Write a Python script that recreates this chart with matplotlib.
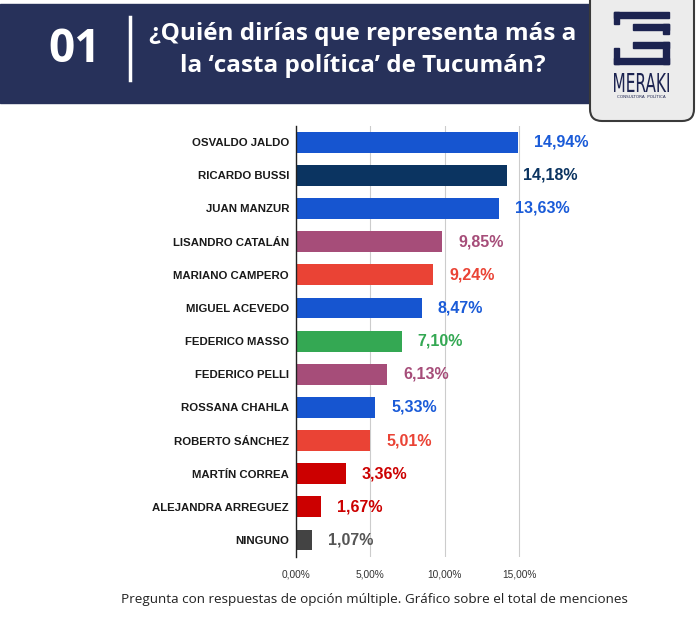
import matplotlib
matplotlib.use("Agg")
import matplotlib.pyplot as plt
from matplotlib.patches import Rectangle, FancyBboxPatch, PathPatch
from matplotlib.textpath import TextPath
from matplotlib.font_manager import FontProperties
from matplotlib.transforms import Affine2D

names = ["OSVALDO JALDO", "RICARDO BUSSI", "JUAN MANZUR", "LISANDRO CATALÁN",
         "MARIANO CAMPERO", "MIGUEL ACEVEDO", "FEDERICO MASSO", "FEDERICO PELLI",
         "ROSSANA CHAHLA", "ROBERTO SÁNCHEZ", "MARTÍN CORREA",
         "ALEJANDRA ARREGUEZ", "NINGUNO"]
values = [14.94, 14.18, 13.63, 9.85, 9.24, 8.47, 7.10, 6.13, 5.33, 5.01, 3.36, 1.67, 1.07]
bar_colors = ["#1655d0", "#0b3461", "#1655d0", "#a64d79", "#ea4335", "#1655d0",
              "#34a853", "#a64d79", "#1655d0", "#ea4335", "#cc0000", "#cc0000", "#434343"]
label_colors = ["#1a5bd8", "#0b3461", "#1a5bd8", "#a64d79", "#ea4335", "#1a5bd8",
                "#34a853", "#a64d79", "#1a5bd8", "#ea4335", "#cc0000", "#cc0000", "#555555"]
xticks = [0, 5, 10, 15]
xtick_labels = ["0,00%", "5,00%", "10,00%", "15,00%"]

title = "¿Quién dirías que representa más a\nla ‘casta política’ de Tucumán?"
footer = "Pregunta con respuestas de opción múltiple. Gráfico sobre el total de menciones"

W, H = 698, 621
fig = plt.figure(figsize=(W / 100, H / 100), dpi=100)
fig.patch.set_facecolor("white")

# header / decoration layer in pixel coords
deco = fig.add_axes([0, 0, 1, 1], zorder=0)
deco.set_xlim(0, W)
deco.set_ylim(H, 0)
deco.axis("off")

navy = "#27315a"
deco.add_patch(Rectangle((0, 4), 596, 99, color=navy, zorder=1))
deco.plot([130, 130], [17, 80], color="white", lw=2.5, zorder=2)
deco.text(75, 50, "01", color="white", fontsize=33, fontweight="bold",
          family="Open Sans", ha="center", va="center", zorder=3)
deco.text(363, 50, title, color="white", fontsize=17.5, fontweight="bold",
          family="Open Sans", ha="center", va="center",
          linespacing=1.45, zorder=3)

# logo box
deco.add_patch(FancyBboxPatch((590, -20), 104, 141, boxstyle="round,pad=0,rounding_size=12",
                              facecolor="#ececec", edgecolor="#3a3a3a", lw=1.5, zorder=4))
logo_c = "#1c2350"
for (x0, y0, w, h) in [(614, 12, 55, 6), (614, 12, 5, 12), (633, 24, 36, 6),
                       (663, 24, 6, 10), (633, 42, 36, 6), (663, 42, 6, 22),
                       (614, 58, 55, 6), (614, 48, 5, 16)]:
    deco.add_patch(Rectangle((x0, y0), w, h, color=logo_c, zorder=5))

# condensed "MERAKI" fitted into its box
tp = TextPath((0, 0), "MERAKI", size=10, prop=FontProperties(family="DejaVu Sans"))
bb = tp.get_extents()
sx = 55 / bb.width
sy = 19 / bb.height
tr = Affine2D().translate(-bb.x0, -bb.y0).scale(sx, -sy).translate(614, 92)
deco.add_patch(PathPatch(tr.transform_path(tp), color=logo_c, lw=0, zorder=5))
deco.text(641.5, 97, "CONSULTORA  POLÍTICA", color=logo_c, fontsize=3,
          ha="center", va="center", zorder=5)

deco.text(374, 600, footer, color="#222222", fontsize=9.7,
          family="Open Sans", ha="center", va="center")

# chart
ax = fig.add_axes([296 / W, 1 - 556.6 / H, 282.5 / W, 431 / H], zorder=2)
ax.patch.set_alpha(0)
y = list(range(len(names)))
bars = ax.barh(y, values, height=0.63, color=bar_colors, zorder=3)
ax.set_ylim(len(names) - 0.5, -0.5)
ax.set_xlim(0, 19)
ax.set_yticks(y)
ax.set_yticklabels(names, fontsize=8.2, fontweight="bold", family="Liberation Sans", color="#1a1a1a")
ax.set_xticks(xticks)
ax.set_xticklabels(xtick_labels, fontsize=7.3, family="Liberation Sans", color="#333333")
ax.tick_params(axis="y", length=0, pad=5)
ax.tick_params(axis="x", length=0, pad=9)
for s in ["top", "right", "bottom"]:
    ax.spines[s].set_visible(False)
ax.spines["left"].set_color("#222222")
ax.spines["left"].set_linewidth(1)
ax.spines["left"].set_zorder(4)
ax.grid(axis="x", color="#cccccc", lw=0.8, zorder=0)

for b, v, c in zip(bars, values, label_colors):
    ax.annotate(f"{v:.2f}%".replace(".", ","), (v, b.get_y() + b.get_height() / 2),
                xytext=(11.5, 0), textcoords="offset points", va="center", ha="left",
                fontsize=11.5, fontweight="bold", color=c, family="Liberation Sans")

fig.savefig("out.png", dpi=100)
